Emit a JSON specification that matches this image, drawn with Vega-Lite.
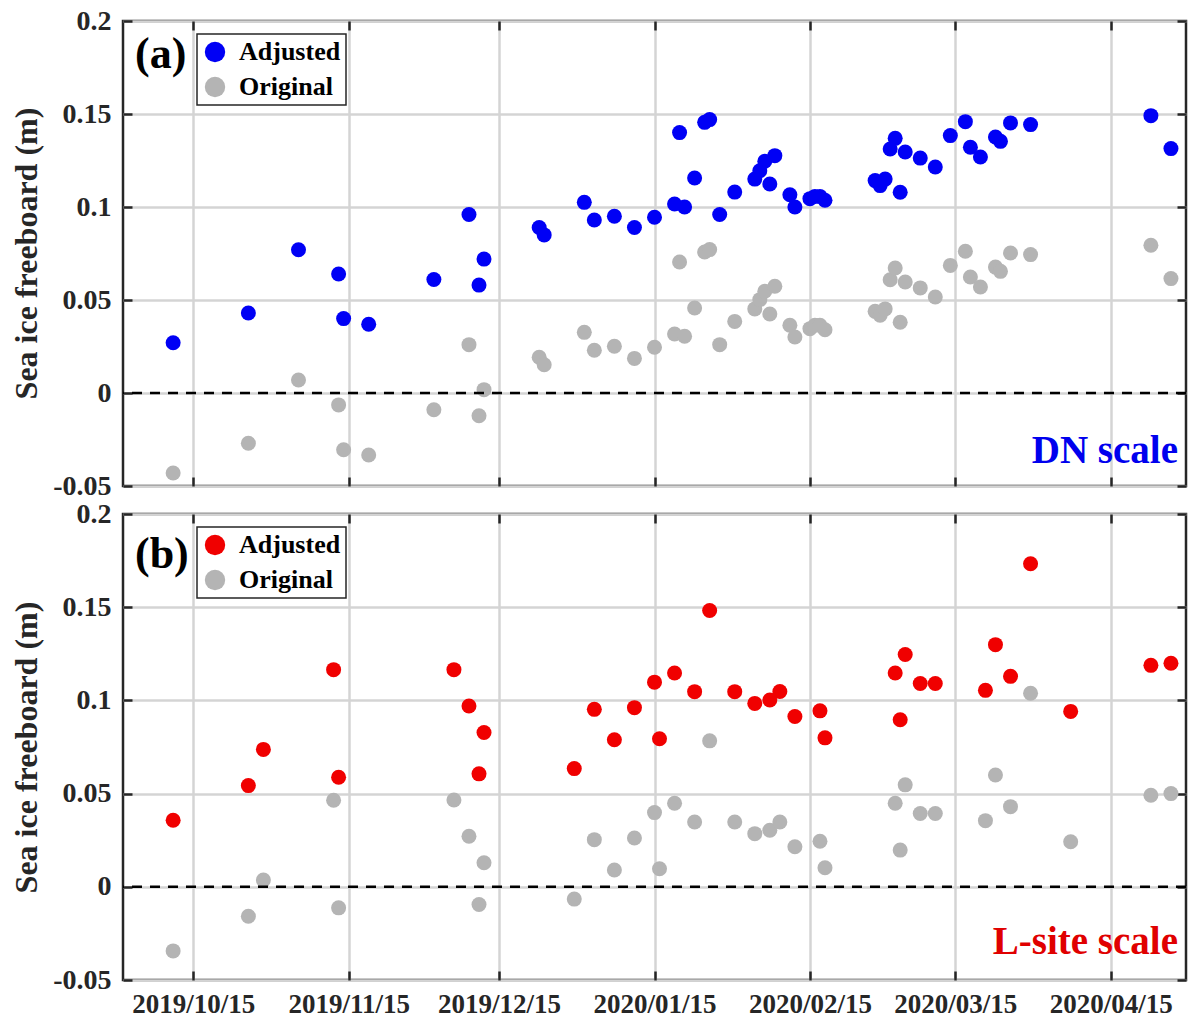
{
  "$schema": "https://vega.github.io/schema/vega-lite/v6.json",
  "padding": {"left": 8, "top": 5, "right": 5, "bottom": 5},
  "background": "white",
  "datasets": {
    "dn": [
      {"d":"2019-10-11","s":"Adjusted","v":0.027},{"d":"2019-10-26","s":"Adjusted","v":0.043},{"d":"2019-11-05","s":"Adjusted","v":0.077},{"d":"2019-11-13","s":"Adjusted","v":0.064},{"d":"2019-11-14","s":"Adjusted","v":0.040},{"d":"2019-11-19","s":"Adjusted","v":0.037},{"d":"2019-12-02","s":"Adjusted","v":0.061},{"d":"2019-12-09","s":"Adjusted","v":0.096},{"d":"2019-12-11","s":"Adjusted","v":0.058},{"d":"2019-12-12","s":"Adjusted","v":0.072},{"d":"2019-12-23","s":"Adjusted","v":0.089},{"d":"2019-12-24","s":"Adjusted","v":0.085},{"d":"2020-01-01","s":"Adjusted","v":0.1025},{"d":"2020-01-03","s":"Adjusted","v":0.093},{"d":"2020-01-07","s":"Adjusted","v":0.095},{"d":"2020-01-11","s":"Adjusted","v":0.089},{"d":"2020-01-15","s":"Adjusted","v":0.0945},{"d":"2020-01-19","s":"Adjusted","v":0.1016},{"d":"2020-01-20","s":"Adjusted","v":0.140},{"d":"2020-01-21","s":"Adjusted","v":0.100},{"d":"2020-01-23","s":"Adjusted","v":0.1156},{"d":"2020-01-25","s":"Adjusted","v":0.1455},{"d":"2020-01-26","s":"Adjusted","v":0.147},{"d":"2020-01-28","s":"Adjusted","v":0.096},{"d":"2020-01-31","s":"Adjusted","v":0.108},{"d":"2020-02-04","s":"Adjusted","v":0.115},{"d":"2020-02-05","s":"Adjusted","v":0.1195},{"d":"2020-02-06","s":"Adjusted","v":0.1246},{"d":"2020-02-07","s":"Adjusted","v":0.1124},{"d":"2020-02-08","s":"Adjusted","v":0.1276},{"d":"2020-02-11","s":"Adjusted","v":0.1066},{"d":"2020-02-12","s":"Adjusted","v":0.100},{"d":"2020-02-15","s":"Adjusted","v":0.1045},{"d":"2020-02-16","s":"Adjusted","v":0.1057},{"d":"2020-02-17","s":"Adjusted","v":0.1057},{"d":"2020-02-18","s":"Adjusted","v":0.1036},{"d":"2020-02-28","s":"Adjusted","v":0.1142},{"d":"2020-02-29","s":"Adjusted","v":0.1115},{"d":"2020-03-01","s":"Adjusted","v":0.115},{"d":"2020-03-02","s":"Adjusted","v":0.1312},{"d":"2020-03-03","s":"Adjusted","v":0.1369},{"d":"2020-03-04","s":"Adjusted","v":0.1079},{"d":"2020-03-05","s":"Adjusted","v":0.1296},{"d":"2020-03-08","s":"Adjusted","v":0.1263},{"d":"2020-03-11","s":"Adjusted","v":0.1215},{"d":"2020-03-14","s":"Adjusted","v":0.1384},{"d":"2020-03-17","s":"Adjusted","v":0.1459},{"d":"2020-03-18","s":"Adjusted","v":0.1321},{"d":"2020-03-20","s":"Adjusted","v":0.1269},{"d":"2020-03-23","s":"Adjusted","v":0.1376},{"d":"2020-03-24","s":"Adjusted","v":0.1353},{"d":"2020-03-26","s":"Adjusted","v":0.1452},{"d":"2020-03-30","s":"Adjusted","v":0.1443},{"d":"2020-04-23","s":"Adjusted","v":0.1491},{"d":"2020-04-27","s":"Adjusted","v":0.1314},
      {"d":"2019-10-11","s":"Original","v":-0.043},{"d":"2019-10-26","s":"Original","v":-0.027},{"d":"2019-11-05","s":"Original","v":0.007},{"d":"2019-11-13","s":"Original","v":-0.0064},{"d":"2019-11-14","s":"Original","v":-0.0305},{"d":"2019-11-19","s":"Original","v":-0.0333},{"d":"2019-12-02","s":"Original","v":-0.009},{"d":"2019-12-09","s":"Original","v":0.026},{"d":"2019-12-11","s":"Original","v":-0.0122},{"d":"2019-12-12","s":"Original","v":0.0018},{"d":"2019-12-23","s":"Original","v":0.0192},{"d":"2019-12-24","s":"Original","v":0.0152},{"d":"2020-01-01","s":"Original","v":0.0326},{"d":"2020-01-03","s":"Original","v":0.023},{"d":"2020-01-07","s":"Original","v":0.0251},{"d":"2020-01-11","s":"Original","v":0.0186},{"d":"2020-01-15","s":"Original","v":0.0246},{"d":"2020-01-19","s":"Original","v":0.0317},{"d":"2020-01-20","s":"Original","v":0.0704},{"d":"2020-01-21","s":"Original","v":0.0305},{"d":"2020-01-23","s":"Original","v":0.0457},{"d":"2020-01-25","s":"Original","v":0.0758},{"d":"2020-01-26","s":"Original","v":0.0771},{"d":"2020-01-28","s":"Original","v":0.026},{"d":"2020-01-31","s":"Original","v":0.0385},{"d":"2020-02-04","s":"Original","v":0.0452},{"d":"2020-02-05","s":"Original","v":0.0502},{"d":"2020-02-06","s":"Original","v":0.0547},{"d":"2020-02-07","s":"Original","v":0.0425},{"d":"2020-02-08","s":"Original","v":0.0574},{"d":"2020-02-11","s":"Original","v":0.0364},{"d":"2020-02-12","s":"Original","v":0.0301},{"d":"2020-02-15","s":"Original","v":0.0346},{"d":"2020-02-16","s":"Original","v":0.0364},{"d":"2020-02-17","s":"Original","v":0.0364},{"d":"2020-02-18","s":"Original","v":0.034},{"d":"2020-02-28","s":"Original","v":0.0439},{"d":"2020-02-29","s":"Original","v":0.0418},{"d":"2020-03-01","s":"Original","v":0.0452},{"d":"2020-03-02","s":"Original","v":0.0609},{"d":"2020-03-03","s":"Original","v":0.0672},{"d":"2020-03-04","s":"Original","v":0.038},{"d":"2020-03-05","s":"Original","v":0.0597},{"d":"2020-03-08","s":"Original","v":0.0565},{"d":"2020-03-11","s":"Original","v":0.0516},{"d":"2020-03-14","s":"Original","v":0.0686},{"d":"2020-03-17","s":"Original","v":0.0762},{"d":"2020-03-18","s":"Original","v":0.0624},{"d":"2020-03-20","s":"Original","v":0.057},{"d":"2020-03-23","s":"Original","v":0.0677},{"d":"2020-03-24","s":"Original","v":0.0654},{"d":"2020-03-26","s":"Original","v":0.0753},{"d":"2020-03-30","s":"Original","v":0.0744},{"d":"2020-04-23","s":"Original","v":0.0794},{"d":"2020-04-27","s":"Original","v":0.0615}
    ],
    "ls": [
      {"d":"2019-10-11","s":"Adjusted","v":0.0357},{"d":"2019-10-26","s":"Adjusted","v":0.0543},{"d":"2019-10-29","s":"Adjusted","v":0.0737},{"d":"2019-11-12","s":"Adjusted","v":0.1165},{"d":"2019-11-13","s":"Adjusted","v":0.0588},{"d":"2019-12-06","s":"Adjusted","v":0.1165},{"d":"2019-12-09","s":"Adjusted","v":0.097},{"d":"2019-12-11","s":"Adjusted","v":0.0606},{"d":"2019-12-12","s":"Adjusted","v":0.0828},{"d":"2019-12-30","s":"Adjusted","v":0.0634},{"d":"2020-01-03","s":"Adjusted","v":0.0952},{"d":"2020-01-07","s":"Adjusted","v":0.0789},{"d":"2020-01-11","s":"Adjusted","v":0.0961},{"d":"2020-01-15","s":"Adjusted","v":0.1098},{"d":"2020-01-16","s":"Adjusted","v":0.0794},{"d":"2020-01-19","s":"Adjusted","v":0.1147},{"d":"2020-01-23","s":"Adjusted","v":0.1047},{"d":"2020-01-26","s":"Adjusted","v":0.1482},{"d":"2020-01-31","s":"Adjusted","v":0.1047},{"d":"2020-02-04","s":"Adjusted","v":0.0984},{"d":"2020-02-07","s":"Adjusted","v":0.1002},{"d":"2020-02-09","s":"Adjusted","v":0.1048},{"d":"2020-02-12","s":"Adjusted","v":0.0914},{"d":"2020-02-17","s":"Adjusted","v":0.0944},{"d":"2020-02-18","s":"Adjusted","v":0.0799},{"d":"2020-03-03","s":"Adjusted","v":0.1147},{"d":"2020-03-04","s":"Adjusted","v":0.0896},{"d":"2020-03-05","s":"Adjusted","v":0.1246},{"d":"2020-03-08","s":"Adjusted","v":0.1091},{"d":"2020-03-11","s":"Adjusted","v":0.1091},{"d":"2020-03-21","s":"Adjusted","v":0.1054},{"d":"2020-03-23","s":"Adjusted","v":0.1299},{"d":"2020-03-26","s":"Adjusted","v":0.1129},{"d":"2020-03-30","s":"Adjusted","v":0.1733},{"d":"2020-04-07","s":"Adjusted","v":0.0941},{"d":"2020-04-23","s":"Adjusted","v":0.1188},{"d":"2020-04-27","s":"Adjusted","v":0.1199},
      {"d":"2019-10-11","s":"Original","v":-0.0344},{"d":"2019-10-26","s":"Original","v":-0.0158},{"d":"2019-10-29","s":"Original","v":0.0036},{"d":"2019-11-12","s":"Original","v":0.0464},{"d":"2019-11-13","s":"Original","v":-0.0113},{"d":"2019-12-06","s":"Original","v":0.0466},{"d":"2019-12-09","s":"Original","v":0.0271},{"d":"2019-12-11","s":"Original","v":-0.0095},{"d":"2019-12-12","s":"Original","v":0.0129},{"d":"2019-12-30","s":"Original","v":-0.0066},{"d":"2020-01-03","s":"Original","v":0.0253},{"d":"2020-01-07","s":"Original","v":0.009},{"d":"2020-01-11","s":"Original","v":0.0262},{"d":"2020-01-15","s":"Original","v":0.0398},{"d":"2020-01-16","s":"Original","v":0.0097},{"d":"2020-01-19","s":"Original","v":0.0448},{"d":"2020-01-23","s":"Original","v":0.0348},{"d":"2020-01-26","s":"Original","v":0.0783},{"d":"2020-01-31","s":"Original","v":0.0348},{"d":"2020-02-04","s":"Original","v":0.0285},{"d":"2020-02-07","s":"Original","v":0.0303},{"d":"2020-02-09","s":"Original","v":0.0348},{"d":"2020-02-12","s":"Original","v":0.0215},{"d":"2020-02-17","s":"Original","v":0.0244},{"d":"2020-02-18","s":"Original","v":0.0102},{"d":"2020-03-03","s":"Original","v":0.0448},{"d":"2020-03-04","s":"Original","v":0.0197},{"d":"2020-03-05","s":"Original","v":0.0547},{"d":"2020-03-08","s":"Original","v":0.0393},{"d":"2020-03-11","s":"Original","v":0.0393},{"d":"2020-03-21","s":"Original","v":0.0355},{"d":"2020-03-23","s":"Original","v":0.06},{"d":"2020-03-26","s":"Original","v":0.043},{"d":"2020-03-30","s":"Original","v":0.1038},{"d":"2020-04-07","s":"Original","v":0.0242},{"d":"2020-04-23","s":"Original","v":0.0491},{"d":"2020-04-27","s":"Original","v":0.05}
    ]
  },
  "config": {
    "font": "Liberation Serif",
    "view": {"stroke": "#262626", "strokeWidth": 2.5},
    "axis": {
      "labelFont": "Liberation Serif", "labelFontWeight": "bold", "labelColor": "#262626",
      "gridColor": "#d4d4d4", "gridWidth": 2.5, "gridOpacity": 1, "domain": false,
      "tickColor": "#262626", "tickWidth": 2.5, "tickSize": -9,
      "titleFont": "Liberation Serif", "titleFontWeight": "bold", "titleFontSize": 32, "titleColor": "#262626"
    },
    "legend": {
      "orient": "none", "legendX": 74, "legendY": 13, "title": null,
      "strokeColor": "#262626", "strokeWidth": 1.5, "fillColor": "white", "padding": 5,
      "symbolType": "circle", "symbolSize": 415, "symbolStrokeWidth": 0, "symbolOpacity": 1,
      "labelFont": "Liberation Serif", "labelFontWeight": "bold", "labelFontSize": 26, "labelColor": "black",
      "labelOffset": 11, "rowPadding": 9
    }
  },
  "spacing": 28,
  "bounds": "flush",
  "resolve": {"scale": {"color": "independent"}, "legend": {"color": "independent"}},
  "vconcat": [
    {
      "width": 1063, "height": 465,
      "resolve": {"axis": {"x": "independent", "y": "independent"}},
      "layer": [
        {
          "data": {"name": "dn"},
          "mark": {"type": "circle", "size": 225, "opacity": 1},
          "encoding": {
            "x": {"field": "d", "type": "temporal",
              "scale": {"type": "utc", "domain": [{"year": 2019, "month": 10, "date": 1, "utc": true}, {"year": 2020, "month": 4, "date": 30, "utc": true}]},
              "axis": {"title": null, "labels": false, "values": [{"year":2019,"month":10,"date":15,"utc":true},{"year":2019,"month":11,"date":15,"utc":true},{"year":2019,"month":12,"date":15,"utc":true},{"year":2020,"month":1,"date":15,"utc":true},{"year":2020,"month":2,"date":15,"utc":true},{"year":2020,"month":3,"date":15,"utc":true},{"year":2020,"month":4,"date":15,"utc":true}]}},
            "y": {"field": "v", "type": "quantitative",
              "scale": {"domain": [-0.05, 0.2], "nice": false, "zero": false},
              "axis": {"values": [-0.05, 0, 0.05, 0.1, 0.15, 0.2], "labelExpr": "replace(format(datum.value, '~g'), '\u2212', '-')", "labelFontSize": 28, "labelPadding": 21,
                "title": "Sea ice freeboard (m)", "titleX": -97, "titleY": 232, "titleAngle": 270, "titleAlign": "center", "titleBaseline": "middle"}},
            "color": {"field": "s", "type": "nominal", "scale": {"domain": ["Adjusted", "Original"], "range": ["#0000f5", "#b4b4b4"]}}
          }
        },
        {
          "data": {"name": "dn"},
          "mark": {"type": "circle", "size": 225, "opacity": 0},
          "encoding": {
            "x": {"field": "d", "type": "temporal", "axis": {"orient": "top", "title": null, "labels": false, "grid": false, "values": [{"year":2019,"month":10,"date":15,"utc":true},{"year":2019,"month":11,"date":15,"utc":true},{"year":2019,"month":12,"date":15,"utc":true},{"year":2020,"month":1,"date":15,"utc":true},{"year":2020,"month":2,"date":15,"utc":true},{"year":2020,"month":3,"date":15,"utc":true},{"year":2020,"month":4,"date":15,"utc":true}]}},
            "y": {"field": "v", "type": "quantitative", "axis": {"orient": "right", "title": null, "labels": false, "grid": false, "values": [-0.05, 0, 0.05, 0.1, 0.15, 0.2]}}
          }
        },
        {
          "data": {"values": [{}]},
          "mark": {"type": "rule", "color": "black", "strokeWidth": 2.5, "strokeDash": [10, 8]},
          "encoding": {"y": {"datum": 0, "type": "quantitative", "axis": null}}
        },
        {
          "data": {"values": [{}]},
          "mark": {"type": "text", "text": "(a)", "font": "Liberation Serif", "fontWeight": "bold", "fontSize": 44, "color": "black", "align": "left", "baseline": "alphabetic", "dx": 12},
          "encoding": {
            "x": {"datum": {"year": 2019, "month": 10, "date": 1, "utc": true}, "type": "temporal", "axis": null},
            "y": {"datum": 0.175, "type": "quantitative", "axis": null}
          }
        },
        {
          "data": {"values": [{}]},
          "mark": {"type": "text", "text": "DN scale", "font": "Liberation Serif", "fontWeight": "bold", "fontSize": 39, "color": "#0000ee", "align": "right", "baseline": "alphabetic", "dx": -8},
          "encoding": {
            "x": {"datum": {"year": 2020, "month": 4, "date": 30, "utc": true}, "type": "temporal", "axis": null},
            "y": {"datum": -0.0375, "type": "quantitative", "axis": null}
          }
        }
      ]
    },
    {
      "width": 1063, "height": 466,
      "resolve": {"axis": {"x": "independent", "y": "independent"}},
      "layer": [
        {
          "data": {"name": "ls"},
          "mark": {"type": "circle", "size": 225, "opacity": 1},
          "encoding": {
            "x": {"field": "d", "type": "temporal",
              "scale": {"type": "utc", "domain": [{"year": 2019, "month": 10, "date": 1, "utc": true}, {"year": 2020, "month": 4, "date": 30, "utc": true}]},
              "axis": {"title": null, "labelExpr": "utcFormat(datum.value, '%Y/%m/%d')", "labelFontSize": 27, "labelPadding": 20, "labelOverlap": false, "labelFlush": false, "values": [{"year":2019,"month":10,"date":15,"utc":true},{"year":2019,"month":11,"date":15,"utc":true},{"year":2019,"month":12,"date":15,"utc":true},{"year":2020,"month":1,"date":15,"utc":true},{"year":2020,"month":2,"date":15,"utc":true},{"year":2020,"month":3,"date":15,"utc":true},{"year":2020,"month":4,"date":15,"utc":true}]}},
            "y": {"field": "v", "type": "quantitative",
              "scale": {"domain": [-0.05, 0.2], "nice": false, "zero": false},
              "axis": {"values": [-0.05, 0, 0.05, 0.1, 0.15, 0.2], "labelExpr": "replace(format(datum.value, '~g'), '\u2212', '-')", "labelFontSize": 28, "labelPadding": 21,
                "title": "Sea ice freeboard (m)", "titleX": -97, "titleY": 233, "titleAngle": 270, "titleAlign": "center", "titleBaseline": "middle"}},
            "color": {"field": "s", "type": "nominal", "scale": {"domain": ["Adjusted", "Original"], "range": ["#f00000", "#b4b4b4"]}}
          }
        },
        {
          "data": {"name": "ls"},
          "mark": {"type": "circle", "size": 225, "opacity": 0},
          "encoding": {
            "x": {"field": "d", "type": "temporal", "axis": {"orient": "top", "title": null, "labels": false, "grid": false, "values": [{"year":2019,"month":10,"date":15,"utc":true},{"year":2019,"month":11,"date":15,"utc":true},{"year":2019,"month":12,"date":15,"utc":true},{"year":2020,"month":1,"date":15,"utc":true},{"year":2020,"month":2,"date":15,"utc":true},{"year":2020,"month":3,"date":15,"utc":true},{"year":2020,"month":4,"date":15,"utc":true}]}},
            "y": {"field": "v", "type": "quantitative", "axis": {"orient": "right", "title": null, "labels": false, "grid": false, "values": [-0.05, 0, 0.05, 0.1, 0.15, 0.2]}}
          }
        },
        {
          "data": {"values": [{}]},
          "mark": {"type": "rule", "color": "black", "strokeWidth": 2.5, "strokeDash": [10, 8]},
          "encoding": {"y": {"datum": 0, "type": "quantitative", "axis": null}}
        },
        {
          "data": {"values": [{}]},
          "mark": {"type": "text", "text": "(b)", "font": "Liberation Serif", "fontWeight": "bold", "fontSize": 44, "color": "black", "align": "left", "baseline": "alphabetic", "dx": 12},
          "encoding": {
            "x": {"datum": {"year": 2019, "month": 10, "date": 1, "utc": true}, "type": "temporal", "axis": null},
            "y": {"datum": 0.171, "type": "quantitative", "axis": null}
          }
        },
        {
          "data": {"values": [{}]},
          "mark": {"type": "text", "text": "L-site scale", "font": "Liberation Serif", "fontWeight": "bold", "fontSize": 39, "color": "#e00000", "align": "right", "baseline": "alphabetic", "dx": -8},
          "encoding": {
            "x": {"datum": {"year": 2020, "month": 4, "date": 30, "utc": true}, "type": "temporal", "axis": null},
            "y": {"datum": -0.036, "type": "quantitative", "axis": null}
          }
        }
      ]
    }
  ]
}
